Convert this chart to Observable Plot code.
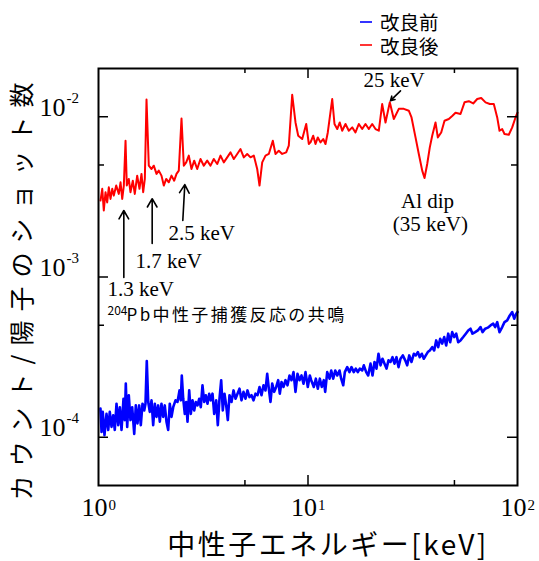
<!DOCTYPE html>
<html><head><meta charset="utf-8">
<script src="https://cdn.jsdelivr.net/npm/d3@7"></script>
<script src="https://cdn.jsdelivr.net/npm/@observablehq/plot@0.6"></script>
<style>
body{margin:0;background:#fff;}
#wrap{position:relative;width:539px;height:561px;}
#legend{position:absolute;left:360px;top:10px;font-family:"Noto Sans CJK JP","Noto Sans",sans-serif;font-size:19.5px;color:#000;}
.item{display:flex;align-items:center;height:23.5px;}
.item svg{margin-right:8px;display:block;}
.item span{display:inline-block;line-height:19px;height:19px;overflow:visible;}
</style></head><body><div id="wrap"><div id="legend"></div></div>
<script>
// ---- data (energy in keV, counts per proton shot) ----
const seriesNames = ["改良前", "改良後"];
const seriesColors = ["#0000ff", "#ff0000"];

const redE = [1.022,1.042,1.060,1.080,1.100,1.120,1.141,1.163,1.183,1.215,
1.250,1.274,1.298,1.321,1.346,1.365,1.395,1.421,1.458,1.490,
1.530,1.569,1.604,1.634,1.664,1.695,1.738,1.791,1.836,1.892,
1.940,1.998,2.050,2.105,2.165,2.231,2.298,2.357,2.417,2.490,
2.554,2.622,2.698,2.779,2.863,2.959,3.068,3.182,3.303,3.425,
3.551,3.686,3.823,3.964,4.115,4.267,4.425,4.593,4.762,4.938,
5.126,5.315,5.512,5.722,5.869,6.045,6.269,6.501,6.792,6.997,
7.255,7.531,7.870,8.098,8.406,8.717,8.980,9.384,9.805,10.09,
10.28,10.59,10.86,11.14,11.47,11.82,12.12,12.43,13.05,13.38,
13.79,14.18,14.56,15.10,15.66,16.26,16.85,17.48,18.14,18.81,
19.51,20.25,21.00,21.78,22.60,23.44,24.57,25.68,27.13,28.66,
30.28,31.20,32.60,33.80,35.09,35.99,37.07,38.14,39.16,40.61,
41.65,43.23,44.84,47.01,48.79,50.60,53.45,55.86,58.56,61.45,
64.22,67.11,70.36,73.77,77.07,80.01,82.06,84.53,86.69,90.88,
94.35,97.83,100];
const redC = [3.00e-3,3.55e-3,2.60e-3,3.38e-3,2.92e-3,3.63e-3,3.07e-3,3.55e-3,3.22e-3,3.72e-3,
3.30e-3,3.90e-3,3.07e-3,3.72e-3,7.09e-3,3.72e-3,4.09e-3,3.38e-3,3.99e-3,3.30e-3,
4.29e-3,3.55e-3,4.40e-3,3.38e-3,4.09e-3,1.28e-2,4.95e-3,4.72e-3,4.95e-3,4.40e-3,
4.61e-3,4.29e-3,3.72e-3,4.09e-3,3.90e-3,4.29e-3,3.99e-3,4.40e-3,4.61e-3,9.76e-3,
4.95e-3,5.19e-3,5.72e-3,4.72e-3,5.32e-3,4.72e-3,5.45e-3,4.95e-3,5.32e-3,4.95e-3,
5.45e-3,5.07e-3,5.72e-3,5.19e-3,5.58e-3,5.99e-3,5.45e-3,5.86e-3,6.29e-3,5.58e-3,
5.86e-3,5.58e-3,5.72e-3,4.72e-3,3.72e-3,5.19e-3,5.72e-3,5.86e-3,7.09e-3,5.86e-3,
6.14e-3,5.86e-3,5.99e-3,6.60e-3,1.37e-2,9.21e-3,7.61e-3,7.26e-3,9.01e-3,6.76e-3,
6.92e-3,7.61e-3,6.76e-3,7.43e-3,6.92e-3,7.26e-3,6.76e-3,7.98e-3,1.29e-2,9.01e-3,
8.38e-3,9.21e-3,8.18e-3,9.01e-3,8.18e-3,8.58e-3,7.98e-3,9.01e-3,8.38e-3,9.01e-3,
8.38e-3,9.01e-3,8.38e-3,8.18e-3,1.20e-2,9.21e-3,1.23e-2,9.68e-3,1.12e-2,1.12e-2,
1.09e-2,9.90e-3,7.43e-3,5.86e-3,4.61e-3,4.15e-3,5.07e-3,6.44e-3,7.61e-3,9.21e-3,
7.43e-3,7.98e-3,9.44e-3,9.68e-3,1.01e-2,1.06e-2,1.04e-2,1.23e-2,1.25e-2,1.21e-2,
1.29e-2,1.31e-2,1.23e-2,1.20e-2,1.20e-2,9.90e-3,8.18e-3,8.38e-3,7.80e-3,7.72e-3,
8.58e-3,9.90e-3,1.06e-2];

const blueE = [1.022,1.034,1.048,1.068,1.092,1.113,1.132,1.154,1.175,1.196,
1.219,1.242,1.264,1.288,1.316,1.335,1.350,1.371,1.395,1.421,
1.448,1.481,1.507,1.535,1.564,1.592,1.622,1.653,1.676,1.700,
1.727,1.757,1.791,1.824,1.857,1.892,1.927,1.962,1.998,2.036,
2.072,2.111,2.151,2.189,2.231,2.273,2.331,2.383,2.436,2.471,
2.498,2.537,2.582,2.622,2.660,2.710,2.758,2.810,2.863,2.914,
2.969,3.025,3.078,3.136,3.195,3.252,3.313,3.376,3.436,3.501,
3.567,3.646,3.711,3.781,3.852,3.920,3.994,4.069,4.142,4.220,
4.314,4.410,4.508,4.608,4.710,4.815,4.922,5.031,5.143,5.257,
5.374,5.493,5.616,5.741,5.869,5.999,6.132,6.269,6.386,6.501,
6.622,6.747,6.897,7.050,7.207,7.335,7.474,7.640,7.810,7.983,
8.161,8.342,8.528,8.717,8.911,9.109,9.311,9.518,9.729,9.978,
10.20,10.36,10.66,10.90,11.14,11.39,11.64,11.90,12.08,12.35,
12.67,12.91,13.19,13.49,13.79,14.14,14.40,14.73,14.99,15.39,
15.78,16.13,16.54,16.91,17.29,17.67,18.14,18.47,18.96,19.38,
19.88,20.32,20.77,21.23,21.70,22.19,22.68,23.19,23.70,24.22,
24.76,25.31,25.88,26.45,27.04,27.64,28.35,29.11,29.75,30.42,
31.20,32.00,32.70,33.43,34.17,34.93,35.71,36.50,37.31,38.14,
39.16,40.02,40.91,41.82,42.75,43.70,44.68,45.67,46.69,47.72,
48.79,49.87,50.98,52.12,53.45,55.07,56.66,58.18,59.66,60.98,
62.82,64.65,66.59,68.07,70.13,72.16,74.33,76.57,78.27,80.01,
82.06,84.53,86.69,89.30,91.89,94.35,96.45,98.59,100];
const blueC = [1.51e-4,1.08e-4,1.44e-4,1.03e-4,1.40e-4,1.11e-4,1.44e-4,1.16e-4,1.37e-4,1.11e-4,
1.62e-4,1.19e-4,1.54e-4,1.11e-4,1.74e-4,1.28e-4,2.16e-4,1.16e-4,1.83e-4,1.28e-4,
1.54e-4,1.05e-4,1.58e-4,1.22e-4,1.58e-4,1.19e-4,1.62e-4,1.47e-4,1.62e-4,2.99e-4,
1.66e-4,1.44e-4,1.70e-4,1.19e-4,1.62e-4,1.34e-4,1.58e-4,1.25e-4,1.62e-4,1.34e-4,
1.58e-4,1.25e-4,1.11e-4,1.62e-4,1.34e-4,1.54e-4,1.70e-4,1.66e-4,1.96e-4,1.70e-4,
2.43e-4,1.74e-4,1.40e-4,1.66e-4,1.25e-4,1.96e-4,1.40e-4,1.70e-4,1.47e-4,1.66e-4,
1.58e-4,1.74e-4,1.54e-4,2.11e-4,1.66e-4,1.83e-4,1.62e-4,1.87e-4,1.70e-4,1.87e-4,
1.40e-4,1.70e-4,1.19e-4,1.74e-4,2.27e-4,1.47e-4,1.87e-4,1.58e-4,1.28e-4,1.83e-4,
1.66e-4,1.96e-4,1.74e-4,1.87e-4,2.01e-4,1.70e-4,1.92e-4,1.74e-4,1.96e-4,1.78e-4,
1.83e-4,1.70e-4,1.87e-4,1.83e-4,2.06e-4,1.83e-4,2.11e-4,1.96e-4,2.49e-4,2.01e-4,
1.66e-4,2.16e-4,1.92e-4,2.06e-4,2.27e-4,1.87e-4,2.21e-4,2.06e-4,2.27e-4,2.11e-4,
2.43e-4,2.27e-4,2.55e-4,1.92e-4,2.49e-4,2.27e-4,2.43e-4,2.16e-4,2.55e-4,2.06e-4,
2.43e-4,2.27e-4,2.06e-4,2.32e-4,2.01e-4,2.32e-4,2.06e-4,2.27e-4,1.92e-4,2.55e-4,
2.32e-4,2.61e-4,2.32e-4,2.61e-4,2.43e-4,2.61e-4,2.32e-4,2.11e-4,2.55e-4,2.74e-4,
2.55e-4,2.74e-4,2.55e-4,2.68e-4,2.55e-4,2.68e-4,2.61e-4,2.81e-4,2.55e-4,2.43e-4,
2.88e-4,2.43e-4,2.95e-4,2.68e-4,3.32e-4,2.81e-4,3.09e-4,2.88e-4,2.68e-4,3.02e-4,
2.95e-4,3.16e-4,2.88e-4,3.16e-4,2.74e-4,3.09e-4,3.24e-4,3.02e-4,2.81e-4,3.24e-4,
2.95e-4,3.32e-4,3.24e-4,3.40e-4,3.16e-4,3.32e-4,3.09e-4,3.24e-4,3.40e-4,3.48e-4,
3.65e-4,3.48e-4,4.02e-4,3.65e-4,4.12e-4,3.84e-4,4.22e-4,3.74e-4,4.43e-4,3.92e-4,
4.53e-4,4.22e-4,4.43e-4,3.92e-4,4.02e-4,4.22e-4,4.43e-4,4.64e-4,4.76e-4,4.43e-4,
4.53e-4,4.64e-4,4.87e-4,4.53e-4,4.76e-4,4.83e-4,4.99e-4,5.11e-4,4.87e-4,5.23e-4,
4.53e-4,4.87e-4,5.23e-4,5.36e-4,5.76e-4,6.04e-4,5.49e-4,5.90e-4,6.04e-4];

// ticks
const xLabelTicks = [1, 10, 100];
const xMajorTicks = [10];
const xMinorTicks = [5, 50];
const yLabelTicks = [1e-4, 1e-3, 1e-2];
const yMinorTicks = [5e-4, 5e-3];

// axis titles
const xTitle = "中性子エネルギー[keV]";
const yTitle = "カウント/陽子のショット数";

// annotations (positions in data coordinates)
const noteLabels = ["1.3 keV", "1.7 keV", "2.5 keV", "25 keV", "Al dip", "(35 keV)"];
const noteE = [1.104, 1.502, 2.158, 18.41, 37.2, 38.4];
const noteC = [7.56e-4, 1.13e-3, 1.69e-3, 1.54e-2, 2.71e-3, 1.95e-3];
const noteAnchor = ["start", "start", "start", "start", "middle", "middle"];
const pbSup = "204", pbText = "Pb中性子捕獲反応の共鳴";
const pbSupPos = [1.104, 5.80e-4], pbTextPos = [1.360, 5.32e-4];
const arrowE1 = [1.321, 1.804, 2.526, 27.64];
const arrowC1 = [9.93e-4, 1.62e-3, 2.25e-3, 1.45e-2];
const arrowE2 = [1.321, 1.804, 2.582, 24.76];
const arrowC2 = [2.60e-3, 3.08e-3, 3.77e-3, 1.26e-2];

// ---- build tables ----
const zip = (E, C) => E.slice(0, Math.min(E.length, C.length)).map((e, i) => ({e, c: C[i]}));
const blue = zip(blueE, blueC), red = zip(redE, redC);
const notes = noteLabels.map((t, i) => ({t, e: noteE[i], c: noteC[i], a: noteAnchor[i]}));
const arrows = arrowE1.map((e, i) => ({e1: e, c1: arrowC1[i], e2: arrowE2[i], c2: arrowC2[i]}));

const serif = '"Liberation Serif", "Times New Roman", serif';
const cjk = '"Noto Sans CJK JP", "Noto Sans", sans-serif';
const W = 539, H = 561, ML = 98, MR = 22, MT = 68, MB = 76;
const FW = W - ML - MR, FH = H - MT - MB;
const exp10 = d => String(Math.round(Math.log10(d)));

const chart = Plot.plot({
  width: W, height: H,
  marginLeft: ML, marginRight: MR, marginTop: MT, marginBottom: MB,
  x: {type: "log", domain: [1, 100], axis: null},
  y: {type: "log", domain: [5e-5, 2e-2], axis: null},
  style: {background: "white", overflow: "visible"},
  marks: [
    Plot.line(blue, {x: "e", y: "c", stroke: seriesColors[0], strokeWidth: 2.6}),
    Plot.line(red, {x: "e", y: "c", stroke: seriesColors[1], strokeWidth: 2}),
    Plot.frame({stroke: "black", strokeWidth: 2}),
    // inward ticks
    Plot.tickX(xMajorTicks, {x: d => d, stroke: "black", strokeWidth: 1.5, insetTop: FH - 10}),
    Plot.tickX(xMajorTicks, {x: d => d, stroke: "black", strokeWidth: 1.5, insetBottom: FH - 10}),
    Plot.tickX(xMinorTicks, {x: d => d, stroke: "black", strokeWidth: 1.5, insetTop: FH - 5}),
    Plot.tickX(xMinorTicks, {x: d => d, stroke: "black", strokeWidth: 1.5, insetBottom: FH - 5}),
    Plot.tickY(yLabelTicks, {y: d => d, stroke: "black", strokeWidth: 1.5, insetRight: FW - 10}),
    Plot.tickY(yLabelTicks, {y: d => d, stroke: "black", strokeWidth: 1.5, insetLeft: FW - 10}),
    Plot.tickY(yMinorTicks, {y: d => d, stroke: "black", strokeWidth: 1.5, insetRight: FW - 6}),
    Plot.tickY(yMinorTicks, {y: d => d, stroke: "black", strokeWidth: 1.5, insetLeft: FW - 6}),
    // tick labels 10^n
    Plot.text(xLabelTicks, {x: d => d, text: () => "10", frameAnchor: "bottom", textAnchor: "end", lineAnchor: "bottom", dx: 9, dy: 30, fontSize: 26, fontFamily: serif, fill: "black"}),
    Plot.text(xLabelTicks, {x: d => d, text: exp10, frameAnchor: "bottom", textAnchor: "start", lineAnchor: "bottom", dx: 10, dy: 24, fontSize: 15, fontFamily: serif, fill: "black"}),
    Plot.text(yLabelTicks, {y: d => d, text: () => "10", frameAnchor: "left", textAnchor: "end", lineAnchor: "bottom", dx: -33, dy: -1, fontSize: 26, fontFamily: serif, fill: "black"}),
    Plot.text(yLabelTicks, {y: d => d, text: exp10, frameAnchor: "left", textAnchor: "start", lineAnchor: "bottom", dx: -32, dy: -14, fontSize: 15, fontFamily: serif, fill: "black"}),
    // axis titles
    Plot.text([xTitle], {text: d => d, frameAnchor: "bottom", textAnchor: "middle", lineAnchor: "bottom", dx: 20, dy: 69, fontSize: 28, fontFamily: cjk, fill: "black"}),
    Plot.text([yTitle], {text: d => d, frameAnchor: "left", textAnchor: "middle", rotate: -90, lineAnchor: "bottom", dx: -68, dy: 10, fontSize: 25, fontFamily: cjk, fill: "black"}),
    // annotations
    Plot.arrow(arrows, {x1: "e1", y1: "c1", x2: "e2", y2: "c2", stroke: "black", strokeWidth: 1.6, headLength: 9}),
    Plot.text(notes.filter(d => d.a === "start"), {x: "e", y: "c", text: "t", textAnchor: "start", lineAnchor: "bottom", fontSize: 21, fontFamily: serif, fill: "black"}),
    Plot.text(notes.filter(d => d.a === "middle"), {x: "e", y: "c", text: "t", textAnchor: "middle", lineAnchor: "bottom", fontSize: 21, fontFamily: serif, fill: "black"}),
    Plot.text([pbSup], {x: () => pbSupPos[0], y: () => pbSupPos[1], text: d => d, textAnchor: "start", lineAnchor: "bottom", fontSize: 12, fontFamily: cjk, fill: "black"}),
    Plot.text([pbText], {x: () => pbTextPos[0], y: () => pbTextPos[1], text: d => d, textAnchor: "start", lineAnchor: "bottom", fontSize: 17, fontFamily: cjk, fill: "black"})
  ]
});

// letter spacing tweaks
chart.querySelectorAll("text").forEach(t => {
  if (t.textContent === xTitle) t.style.letterSpacing = "2.5px";
  if (t.textContent === yTitle) t.style.letterSpacing = "9px";
  if (t.textContent === pbText) t.style.letterSpacing = "2.4px";
});

const wrap = document.getElementById("wrap");
wrap.insertBefore(chart, wrap.firstChild);

// legend
const legend = document.getElementById("legend");
seriesNames.forEach((n, i) => {
  const row = document.createElement("div");
  row.className = "item";
  row.innerHTML = `<svg width="12" height="4"><line x1="0" x2="12" y1="2" y2="2" stroke="${seriesColors[i]}" stroke-width="1.6"/></svg>`;
  const lab = document.createElement("span");
  lab.textContent = n;
  row.appendChild(lab);
  legend.appendChild(row);
});
</script>
</body></html>
